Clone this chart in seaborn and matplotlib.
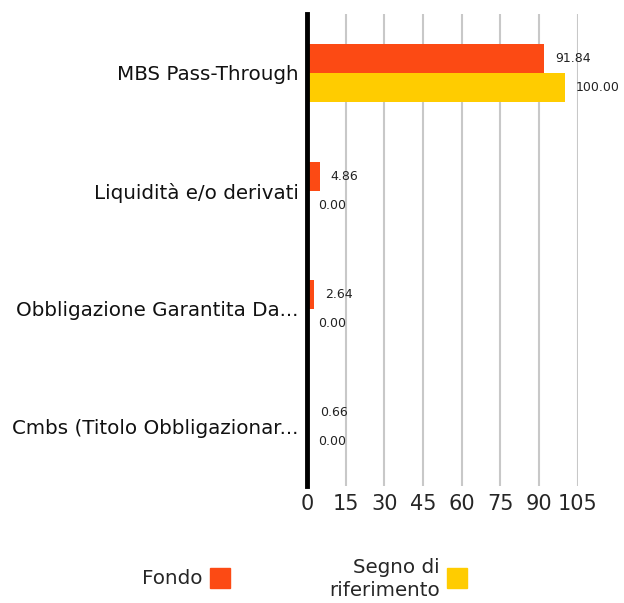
import pandas as pd
import seaborn as sns
import matplotlib.pyplot as plt
from matplotlib.patches import Rectangle

categories = ['MBS Pass-Through', 'Liquidità e/o derivati',
              'Obbligazione Garantita Da...', 'Cmbs (Titolo Obbligazionar...']
fondo = [91.84, 4.86, 2.64, 0.66]
riferimento = [100.00, 0.00, 0.00, 0.00]
series = ['Fondo', 'Segno di riferimento']
colors = ['#FC4A14', '#FFCC00']
xticks = [0, 15, 30, 45, 60, 75, 90, 105]

df = pd.DataFrame({
    'categoria': categories * 2,
    'valore': fondo + riferimento,
    'serie': [series[0]] * 4 + [series[1]] * 4,
})

sns.set_style('white')
plt.rcParams['font.family'] = ['DejaVu Sans']

fig = plt.figure(figsize=(6.24, 6.03), dpi=100)
ax = fig.add_axes([0.492, 0.194, 0.434, 0.783])

sns.barplot(data=df, x='valore', y='categoria', hue='serie', orient='h',
            palette=colors, width=0.49, legend=False, ax=ax, saturation=1,
            linewidth=0)

for cont in ax.containers:
    ax.bar_label(cont, fmt='%.2f', padding=8, fontsize=9, color='#222222')

ax.set_xlim(0, 105)
ax.set_ylim(3.5, -0.5)
ax.set_xticks(xticks)
ax.set_xticklabels([str(t) for t in xticks], fontsize=15)
ax.tick_params(axis='x', length=0, pad=6)
ax.tick_params(axis='y', length=0, pad=6, labelsize=14.3, labelcolor='#111111')
ax.set_xlabel('')
ax.set_ylabel('')
ax.grid(axis='x', color='#c8c8c8', linewidth=1.5)
ax.set_axisbelow(True)
for s in ['top', 'right', 'bottom']:
    ax.spines[s].set_visible(False)
ax.spines['left'].set_color('black')
ax.spines['left'].set_linewidth(3.5)
ax.spines['left'].set_zorder(5)

# legend drawn by hand
fig.text(203 / 624, 1 - 578 / 603, 'Fondo', ha='right', va='center', fontsize=14.3)
fig.patches.append(Rectangle((210 / 624, 1 - 588 / 603), 20 / 624, 20 / 603,
                             transform=fig.transFigure, color=colors[0]))
fig.text(440 / 624, 1 - 579 / 603, 'Segno di\nriferimento', ha='right', va='center',
         fontsize=14.3, multialignment='right', linespacing=1.3)
fig.patches.append(Rectangle((447 / 624, 1 - 588 / 603), 20 / 624, 20 / 603,
                             transform=fig.transFigure, color=colors[1]))

fig.savefig('out.png', dpi=100)
